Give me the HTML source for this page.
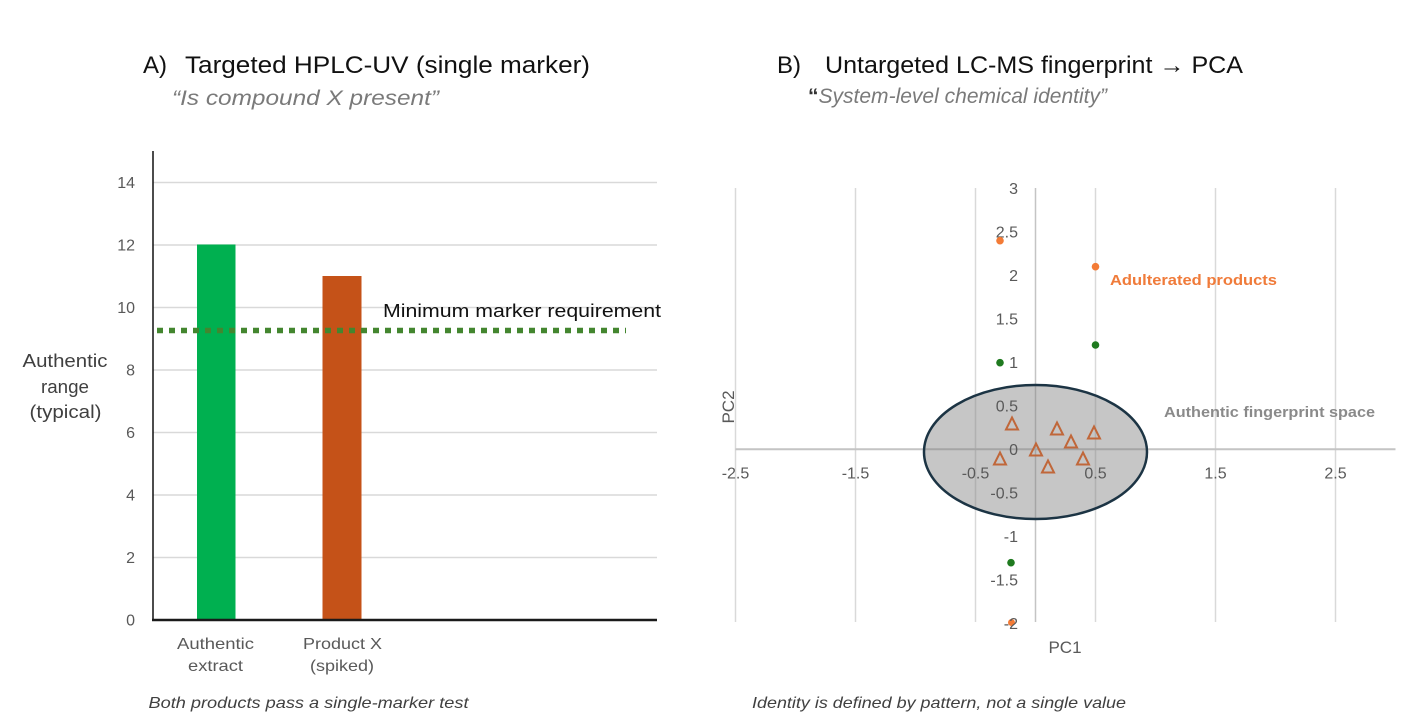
<!DOCTYPE html>
<html><head><meta charset="utf-8"><style>
html,body{margin:0;padding:0;background:#fff;}
svg{display:block;font-family:"Liberation Sans",Arial,sans-serif;}
</style></head><body>
<svg width="1421" height="726" viewBox="0 0 1421 726" xmlns="http://www.w3.org/2000/svg">
<rect width="1421" height="726" fill="#fff"/>

<!-- Titles -->
<text x="143" y="73" font-size="24" fill="#111">A)</text>
<text x="185" y="73" font-size="24" fill="#111" textLength="405" lengthAdjust="spacingAndGlyphs">Targeted HPLC-UV (single marker)</text>
<text x="172" y="105" font-size="21" font-style="italic" fill="#7a7a7a" textLength="267" lengthAdjust="spacingAndGlyphs">“Is compound X present”</text>

<text x="777" y="73" font-size="24" fill="#111">B)</text>
<text x="825" y="73" font-size="24" fill="#111" textLength="418" lengthAdjust="spacingAndGlyphs">Untargeted LC-MS fingerprint → PCA</text>
<text x="808" y="103" font-size="21" font-style="italic" fill="#7a7a7a" textLength="299" lengthAdjust="spacingAndGlyphs"><tspan font-weight="bold" font-style="normal" fill="#333">“</tspan>System-level chemical identity”</text>

<!-- Left chart gridlines -->
<g stroke="#d9d9d9" stroke-width="1.5">
<line x1="153" y1="182.5" x2="657" y2="182.5"/>
<line x1="153" y1="245" x2="657" y2="245"/>
<line x1="153" y1="307.5" x2="657" y2="307.5"/>
<line x1="153" y1="370" x2="657" y2="370"/>
<line x1="153" y1="432.5" x2="657" y2="432.5"/>
<line x1="153" y1="495" x2="657" y2="495"/>
<line x1="153" y1="557.5" x2="657" y2="557.5"/>
</g>
<!-- Y tick labels -->
<g font-size="16" fill="#595959" text-anchor="end">
<text x="135" y="188">14</text>
<text x="135" y="250.5">12</text>
<text x="135" y="313">10</text>
<text x="135" y="375.5">8</text>
<text x="135" y="438">6</text>
<text x="135" y="500.5">4</text>
<text x="135" y="563">2</text>
<text x="135" y="625.5">0</text>
</g>
<!-- Bars -->
<rect x="197" y="244.5" width="38.5" height="375.5" fill="#00b050"/>
<rect x="322.5" y="276" width="39" height="344" fill="#c55218"/>
<!-- Axes -->
<line x1="153" y1="151" x2="153" y2="621" stroke="#111" stroke-width="1.5"/>
<line x1="152" y1="620" x2="657" y2="620" stroke="#1a1a1a" stroke-width="2.5"/>
<!-- Dotted threshold -->
<line x1="157" y1="330.5" x2="626" y2="330.5" stroke="#43862f" stroke-width="5.5" stroke-dasharray="6 6"/>
<text x="383" y="317" font-size="18" fill="#111" textLength="278" lengthAdjust="spacingAndGlyphs">Minimum marker requirement</text>

<!-- Axis title left -->
<g font-size="18" fill="#404040" text-anchor="middle">
<text x="65" y="367" textLength="85" lengthAdjust="spacingAndGlyphs">Authentic</text>
<text x="65" y="393" textLength="48" lengthAdjust="spacingAndGlyphs">range</text>
<text x="65.5" y="418" textLength="72" lengthAdjust="spacingAndGlyphs">(typical)</text>
</g>
<!-- Categories -->
<g font-size="16" fill="#595959">
<text x="177" y="649" textLength="77" lengthAdjust="spacingAndGlyphs">Authentic</text>
<text x="188" y="671" textLength="55" lengthAdjust="spacingAndGlyphs">extract</text>
<text x="303" y="649" textLength="79" lengthAdjust="spacingAndGlyphs">Product X</text>
<text x="310" y="671" textLength="64" lengthAdjust="spacingAndGlyphs">(spiked)</text>
</g>
<text x="148.5" y="708" font-size="16" font-style="italic" fill="#404040" textLength="320" lengthAdjust="spacingAndGlyphs">Both products pass a single-marker test</text>

<!-- Right chart gridlines -->
<g stroke="#d9d9d9" stroke-width="1.5">
<line x1="735.5" y1="188" x2="735.5" y2="622"/>
<line x1="855.5" y1="188" x2="855.5" y2="622"/>
<line x1="975.5" y1="188" x2="975.5" y2="622"/>
<line x1="1095.5" y1="188" x2="1095.5" y2="622"/>
<line x1="1215.5" y1="188" x2="1215.5" y2="622"/>
<line x1="1335.5" y1="188" x2="1335.5" y2="622"/>
</g>
<line x1="1035.5" y1="188" x2="1035.5" y2="622" stroke="#c4c4c4" stroke-width="1.5"/>
<line x1="735.5" y1="449.3" x2="1395.5" y2="449.3" stroke="#c4c4c4" stroke-width="2"/>

<!-- Ellipse -->
<ellipse cx="1035.5" cy="452" rx="111.5" ry="67" fill="#808080" fill-opacity="0.45" stroke="#1c3444" stroke-width="2.5"/>

<!-- Y labels right -->
<g font-size="16" fill="#595959" text-anchor="end">
<text x="1018" y="193.8">3</text>
<text x="1018" y="237.3">2.5</text>
<text x="1018" y="280.8">2</text>
<text x="1018" y="324.3">1.5</text>
<text x="1018" y="367.8">1</text>
<text x="1018" y="411.3">0.5</text>
<text x="1018" y="454.8">0</text>
<text x="1018" y="498.3">-0.5</text>
<text x="1018" y="541.8">-1</text>
<text x="1018" y="585.3">-1.5</text>
</g>
<!-- X labels -->
<g font-size="16" fill="#595959" text-anchor="middle">
<text x="735.5" y="478.5">-2.5</text>
<text x="855.5" y="478.5">-1.5</text>
<text x="975.5" y="478.5">-0.5</text>
<text x="1095.5" y="478.5">0.5</text>
<text x="1215.5" y="478.5">1.5</text>
<text x="1335.5" y="478.5">2.5</text>
</g>

<!-- Triangles -->
<g fill="none" stroke="#c0673a" stroke-width="2" stroke-linejoin="miter">
<polygon points="1012,417.5 1018,429.5 1006,429.5"/>
<polygon points="1057,422.5 1063,434.5 1051,434.5"/>
<polygon points="1094,426.5 1100,438.5 1088,438.5"/>
<polygon points="1071,435.5 1077,447.5 1065,447.5"/>
<polygon points="1036,443.5 1042,455.5 1030,455.5"/>
<polygon points="1000,452.5 1006,464.5 994,464.5"/>
<polygon points="1048,460.5 1054,472.5 1042,472.5"/>
<polygon points="1083,452.5 1089,464.5 1077,464.5"/>
</g>

<!-- Points -->
<circle cx="1000" cy="240.7" r="3.8" fill="#f37b36"/>
<circle cx="1095.5" cy="266.7" r="3.8" fill="#f37b36"/>
<circle cx="1095.5" cy="345" r="3.8" fill="#1f7a1f"/>
<circle cx="1000" cy="362.7" r="3.8" fill="#1f7a1f"/>
<circle cx="1011" cy="562.7" r="3.8" fill="#1f7a1f"/>
<circle cx="1011.5" cy="622.5" r="3.5" fill="#f37b36"/>
<text x="1018" y="628.8" font-size="16" fill="#595959" text-anchor="end">-2</text>

<!-- Annotations -->
<text x="1110" y="285" font-size="15" font-weight="bold" fill="#f07b3a" textLength="167" lengthAdjust="spacingAndGlyphs">Adulterated products</text>
<text x="1164" y="417" font-size="15" font-weight="bold" fill="#8a8a8a" textLength="211" lengthAdjust="spacingAndGlyphs">Authentic fingerprint space</text>

<text transform="translate(734,407) rotate(-90)" font-size="17" fill="#595959" text-anchor="middle">PC2</text>
<text x="1065" y="653" font-size="17" fill="#595959" text-anchor="middle">PC1</text>

<text x="752" y="708" font-size="16" font-style="italic" fill="#404040" textLength="374" lengthAdjust="spacingAndGlyphs">Identity is defined by pattern, not a single value</text>
</svg>
</body></html>
